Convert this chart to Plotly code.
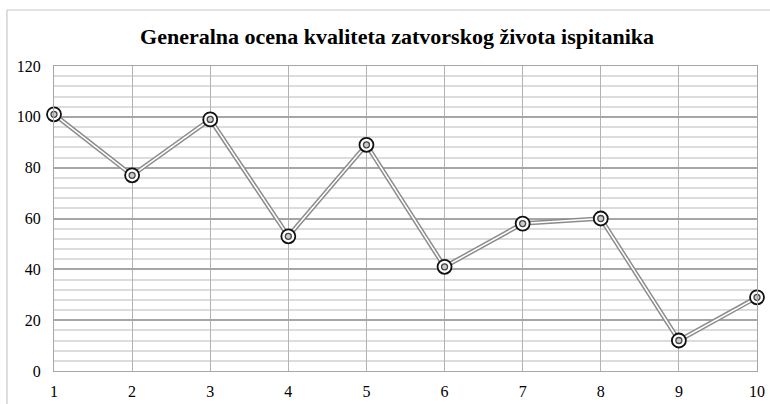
import plotly.graph_objects as go

categories = [1, 2, 3, 4, 5, 6, 7, 8, 9, 10]
values = [101, 77, 99, 53, 89, 41, 58, 60, 12, 29]
y_ticks = [0, 20, 40, 60, 80, 100, 120]
title = "Generalna ocena kvaliteta zatvorskog života ispitanika"

fig = go.Figure()
# double line: gray outer, white inner
fig.add_trace(go.Scatter(x=categories, y=values, mode="lines",
                         line=dict(color="#8c8c8c", width=4.5), hoverinfo="skip", showlegend=False))
fig.add_trace(go.Scatter(x=categories, y=values, mode="lines",
                         line=dict(color="#ffffff", width=1.5), hoverinfo="skip", showlegend=False))
# markers: outer black ring, inner gray ring
fig.add_trace(go.Scatter(x=categories, y=values, mode="markers",
                         marker=dict(symbol="circle", size=14, color="#ffffff",
                                     line=dict(color="#111111", width=1.8)),
                         showlegend=False, cliponaxis=False))
fig.add_trace(go.Scatter(x=categories, y=values, mode="markers",
                         marker=dict(symbol="circle", size=6, color="#cccccc",
                                     line=dict(color="#444444", width=1.3)),
                         showlegend=False, cliponaxis=False))

font_family = "Liberation Serif"
fig.update_layout(
    width=770, height=404,
    margin=dict(l=54, r=13, t=66, b=33),
    paper_bgcolor="white", plot_bgcolor="white",
    title=dict(text="<b>" + title + "</b>", xref="paper", x=0.488, xanchor="center",
               y=0.91, yanchor="middle",
               font=dict(family=font_family, size=22, color="#000000")),
    font=dict(family=font_family, size=16, color="#000000"),
    xaxis=dict(range=[1, 10], tickvals=categories, ticktext=[str(c) for c in categories],
               showgrid=True, gridcolor="#b3b3b3", gridwidth=1.2, zeroline=False,
               showline=True, linecolor="#a6a6a6", linewidth=1.2, mirror=True, automargin=False,
               ticks="", ticklabelstandoff=6, tickfont=dict(family=font_family, size=16)),
    yaxis=dict(range=[0, 120], tickvals=y_ticks, showgrid=True, gridcolor="#a6a6a6", gridwidth=1.5,
               zeroline=False, showline=True, linecolor="#a6a6a6", linewidth=1.2, mirror=True,
               automargin=False,
               ticks="", ticklabelstandoff=9, tickfont=dict(family=font_family, size=16),
               minor=dict(dtick=4, showgrid=True, gridcolor="#dcdcdc", gridwidth=1.5)),
)
# chart outer frame (left and top)
fig.add_shape(type="line", xref="paper", yref="paper", x0=-0.0669, x1=-0.0669, y0=-0.2, y1=1.1836,
              line=dict(color="#c8c8c8", width=1.2))
fig.add_shape(type="line", xref="paper", yref="paper", x0=-0.0669, x1=1.03, y0=1.1836, y1=1.1836,
              line=dict(color="#c8c8c8", width=1.2))

fig.write_html("out.html", config={"displayModeBar": False},
               post_script="document.body.style.margin='0';")
